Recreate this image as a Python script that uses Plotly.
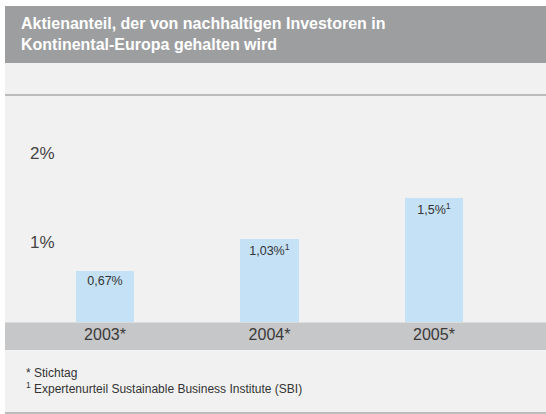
import plotly.graph_objects as go

categories = ["2003*", "2004*", "2005*"]
values = [0.67, 1.03, 1.5]
bar_labels = ["0,67%", "1,03%<sup>1</sup>", "1,5%<sup>1</sup>"]
ytick_vals = [1, 2]
ytick_text = ["1%", "2%"]
title_text = "Aktienanteil, der von nachhaltigen Investoren in<br>Kontinental-Europa gehalten wird"
footnotes = "* Stichtag<br><sup>1</sup> Expertenurteil Sustainable Business Institute (SBI)"

W, H = 546, 414
TOP, BOT = 96, 322  # plot area pixel rows
L, R = 5, 546

def py(pix):
    return (BOT - pix) / (BOT - TOP)

def px(pix):
    return (pix - L) / (R - L)

fig = go.Figure()
fig.add_trace(go.Bar(
    x=[0, 1, 2], y=values, width=0.353,
    marker=dict(color="#c5e1f5", line=dict(width=0)),
    text=bar_labels, textposition="inside", insidetextanchor="end",
    textfont=dict(family="Liberation Sans, Arial", size=12.5, color="#333333"),
    hoverinfo="skip", showlegend=False,
))

shapes = [
    dict(type="rect", xref="paper", yref="paper", x0=px(5), x1=px(546), y0=py(413), y1=py(63),
         fillcolor="#f1f1f1", line=dict(width=0), layer="below"),
    dict(type="rect", xref="paper", yref="paper", x0=px(5), x1=px(546), y0=py(63), y1=py(6),
         fillcolor="#9d9ea0", line=dict(width=0), layer="below"),
    dict(type="line", xref="paper", yref="paper", x0=px(5), x1=px(546), y0=py(95), y1=py(95),
         line=dict(color="#a9a9a9", width=1.5), layer="below"),
    dict(type="rect", xref="paper", yref="paper", x0=px(5), x1=px(546), y0=py(350), y1=py(322.5),
         fillcolor="#c6c7c8", line=dict(width=0), layer="below"),
    dict(type="line", xref="paper", yref="paper", x0=px(5), x1=px(546), y0=py(413), y1=py(413),
         line=dict(color="#a9a9a9", width=1.5), layer="below"),
]

annotations = [
    dict(text=title_text, xref="paper", yref="paper", x=px(19), y=py(34), xanchor="left", yanchor="middle",
         align="left", showarrow=False,
         font=dict(family="Liberation Sans, Arial", size=16, color="white", weight="bold")),
    dict(text=footnotes, xref="paper", yref="paper", x=px(24), y=py(381), xanchor="left", yanchor="middle",
         align="left", showarrow=False,
         font=dict(family="Liberation Sans, Arial", size=12, color="#333333")),
]
for v, t in zip(ytick_vals, ytick_text):
    annotations.append(dict(text=t, xref="paper", yref="y", x=px(28), y=v, xanchor="left", yanchor="middle",
                            showarrow=False, font=dict(family="Liberation Sans, Arial", size=17, color="#444444")))

ppu = 89.0
y0 = 9.0 / ppu
fig.update_layout(
    width=W, height=H,
    margin=dict(l=L, r=W - R, t=TOP, b=H - BOT),
    paper_bgcolor="white", plot_bgcolor="#f1f1f1",
    shapes=shapes, annotations=annotations,
    bargap=0,
    xaxis=dict(range=[-0.608, 2.681], tickvals=[0, 1, 2], ticktext=categories,
               showgrid=False, zeroline=False, showline=False, ticks="",
               ticklabelstandoff=1,
               tickfont=dict(family="Liberation Sans, Arial", size=16, color="#3a3a3a"), fixedrange=True),
    yaxis=dict(range=[y0, y0 + (BOT - TOP) / ppu], showticklabels=False, showgrid=False, zeroline=False,
               showline=False, fixedrange=True),
)

fig.write_html("out.html", config={"displayModeBar": False},
               post_script="document.body.style.margin='0';document.body.style.overflow='hidden';")
